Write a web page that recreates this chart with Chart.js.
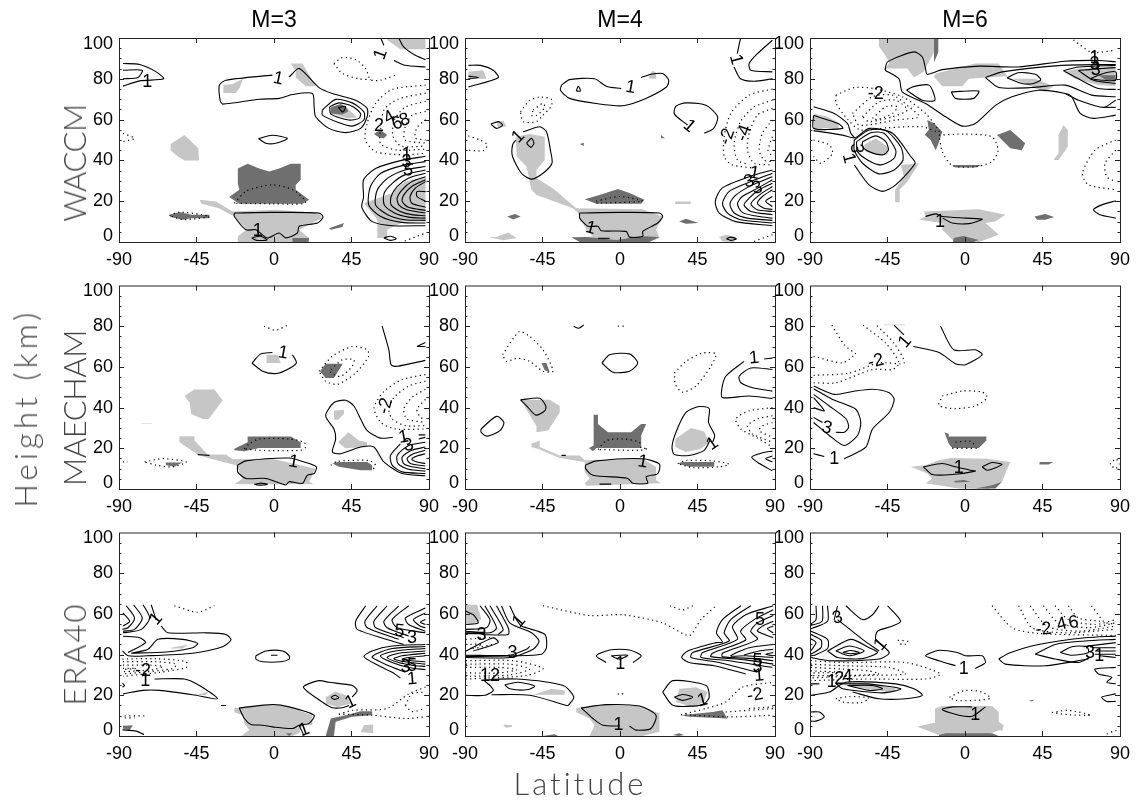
<!DOCTYPE html>
<html lang="en">
<head>
<meta charset="UTF-8">
<title>Height vs Latitude</title>
<script src="https://cdn.jsdelivr.net/npm/chart.js"></script>
<style>
  body { margin: 0; background: #fff; width: 1138px; height: 801px; overflow: hidden; position: relative; }
  canvas { position: absolute; }
  .axis-name {
    position: absolute; white-space: nowrap; color: #444; will-change: transform;
    font-family: Lato, "DejaVu Sans", sans-serif; font-weight: 300; font-size: 31px;
    transform: translate(-50%, -50%);
  }
  .side { transform: translate(-50%, -50%) rotate(-90deg); }
</style>
</head>
<body>
<div class="axis-name side" style="left:74px;top:163px;letter-spacing:-0.5px">WACCM</div>
<div class="axis-name side" style="left:74px;top:408px;letter-spacing:-0.4px">MAECHAM</div>
<div class="axis-name side" style="left:74px;top:654px;letter-spacing:2px">ERA40</div>
<div class="axis-name side" style="left:25px;top:408px;letter-spacing:4.2px">Height (km)</div>
<div class="axis-name" style="left:580px;top:783px;letter-spacing:3px">Latitude</div>
<script>
// contours and shaded areas are flat lat,height,lat,height lists
const columnTitles = ["M=3", "M=4", "M=6"];
const latTicks = [-90, -45, 0, 45, 90];
const heightTicks = [0, 20, 40, 60, 80, 100];
const minorHeights = [5, 10, 15, 25, 30, 35, 45, 50, 55, 65, 70, 75, 85, 90, 95];

// ---- WACCM M=3
const waccm3Light = [
  [-60,45,-60,48,-52,52.5,-44,46,-43.5,40,-52,40,-56,42],
  [-43.3,20.7,-33.7,19.9,-24,15,1,15.8,26,14.2,28,11.7,14.6,6,20.4,2,20,0,-21,0,-21,2.8,-16,6,-23,12.5,-32,16.6,-42,18.7],
  [-29.4,77,-24,77.5,-18,80,-20,75.5,-22,73,-29.4,73],
  [9.7,87.5,16.5,87.5,24.2,76.4,18.4,76.4,12.6,80.6,12.6,84],
  [33,66.3,41.6,66.6,48.3,61,42.5,60.6,33,63],
  [65.7,100,88,100,88,94.5,73.4,94.5,65.7,99],
  [88,32,76,29.6,68.6,24,52.2,19,57,14.2,60,10.9,60,2,65.7,2,65.7,6,76,10,88,10]
];
const waccm3Dark = [
  [-21,36,-15.3,38.3,-8.6,36,-2.8,34.5,3,36,9.7,38.3,15.5,38.3,15.5,30.5,12.6,28,12.6,25.6,20.4,20.7,16.5,18.7,-20.2,18.7,-26,22,-20.2,25.6,-21,28.8],
  [-60.7,13.4,-54.9,14.7,-48,13.4,-37.5,13.4,-37.5,11.7,-48,11.7,-53,10.9,-60,12.2],
  [32,6.8,40.6,9.3,39.7,7.3,33,6],
  [58,53,61.8,55,65.7,52.4,63.8,50.8,60.9,51.3],
  [33,66,38.7,67.7,41.6,66.6,43.1,64,39.7,62.5,33,63],
  [10.7,2,20.4,2,20,0,10.7,0]
];
const waccm3Solid = [
  [-87.7,87.5,-78,87,-68.4,83.4,-64.1,80,-78,79,-87.7,76.4],
  [-87.7,84.2,-76.5,84.2,-79,80.6,-87.7,80],
  [-0.9,81.8,-27.9,79.3,-31.7,76.9,-31.3,69.5,-29.8,67.6,-8.6,70,3,70.4,10.7,72.3,22.3,72.8,23.3,66.3,24.2,61.4,31.9,55.7,41.6,53.6,50.3,55.7,54.1,61.4,54.1,65.5,47.4,69.5,33.9,72.8,26.1,75.7,14.6,85,8.8,80.9],
  [28.1,64.7,35.8,69.9,45.4,68.2,52.2,63.8,52.2,59.8,45.4,56.8,37.7,58.5,28.1,62.2,28.1,64.7],
  [32.3,66.3,37.7,68.2,45.4,66.6,50.3,63,49.3,60.6,43.5,59.8,33,62.7,32.3,66.3],
  [37.3,66,41.6,66.3,40,63.8,37.3,66],
  [-9,50.7,-0.9,52.3,7.8,50.7,1,48.4,-4.7,48.4,-9,50.7],
  [-23,14.2,-0.9,14.5,26.1,14.2,28.5,12.2,25.2,9.3,14.6,7.7,13.6,4.4,6.9,2,3,4.4,-4,2,-10.5,6,-16.3,6,-23,12.5,-23,14.2],
  [-13,2,-8,2.8,-4,1,-10,0.8,-13,2],
  [88,42,74,40,59,36,52,30.5,52,22,51,17,57,10,69,8,88,8],
  [88,39.4,76,37.8,62,33.7,56,27.2,55,18.2,62,12.5,74,9.6,88,9.3],
  [88,37,76,35.3,66,31.3,60,25.6,59,18.2,66,13.4,76,10.9,88,10.6],
  [88,35.3,76,32.9,69,29,64,24,64,18.2,70,14.2,78,12.2,88,11.7],
  [88,33.7,78,31.3,71.5,27.2,68,22.3,68,18.2,73.4,15,80,13.4,88,12.9],
  [88,32,80,29.6,74.4,25.6,71.5,21.5,72.5,18.2,77,15.8,88,14.2],
  [88,30.5,80,27.2,75.3,23,74.4,19.9,78,17,88,15.5],
  [88,29.6,82,26.4,79,22.3,80,19,88,17],
  [88,24.7,83,24.7,83,22.3,88,19.9],
  [62,100,63.8,96.4],[69.6,89,76,86.6,88,85.8],
  [72.4,100,75.3,95.6,82,91.5,88,89.4],
  [63.8,2,67.6,2.8,71,1.6,67.6,0.8,63.8,2]
];
const waccm3Dotted = [
  [34.8,87.5,39.6,90.4,47.4,89.4,53.2,85,56,79.6,61.8,79.3,70.5,81.8],
  [34.8,87.5,39.7,82.6,49.3,80,56,79.6],
  [88,76.9,68.6,74.8,59,68,54,58,53,50,59,44.3,76.3,42.7,88,43.5],
  [88,73,72,70,64,65,62,56,62,48,72,45,88,45.5],
  [88,69,76,66,70,60,69,52,74,47,88,47],
  [88,64,80,62,76,56,76,50,88,48.5],
  [88,60,83,56,82,51,88,50],
  [-87.7,53.3,-81,50.8,-87.7,49.2],
  [-23,19,-16,25,-1,28,11,25.6,18.4,20,17,18.7,-1,18.7,-23,19],
  [-60.7,13,-55,14.7,-37.5,12.5,-53,11,-60.7,13],
  [76,0.5,88,4.4]
];
const waccm3Labels = [
  [-73.6,78.5,"1",0],[2.4,80,"1",12],[62,92,"1",-70],[-9.5,5.2,"1",0],[61,57,"2",0],
  [67,61,"4",-30],[71.5,58,"6",-20],[76,59.7,"8",-20],[77,42.7,"1",0],[77,39,"3",0],[78,35,"5",10]
];

// ---- WACCM M=4
const waccm4Light = [
  [-88,83.4,-79.5,84.2,-77.5,80,-88,80],
  [-60.5,51.6,-52.4,53,-43.7,51.6,-43.7,40.2,-48.5,35.3,-48.5,31.3,-39,26.4,-25.4,16.6,13,16,24.8,12.5,21,6,23,2,17,0,-19.6,0,-24,2,-15.7,2.8,-19.6,6,-24.4,14.2,-27.3,16.6,-40.8,20.7,-48.5,23,-51.4,25.6,-54.3,37,-60,41.9],
  [17,82,19,84,21,83,21,80,17,80],
  [-71.7,59,-67.8,59.4,-66,56.8,-70.7,55.7],
  [32,19.9,41,19.9,41,18.6,32,18.6],
  [-71.7,2.4,-65,4.7,-60,2,-67.8,0.8,-76.5,2.4],
  [57.6,2.4,61.4,3.6,67.2,2.4,66.3,0,59.5,0.3]
];
const waccm4Dark = [
  [-20.5,21,-11.9,23.1,-1.2,26,5.5,24,14.2,20.7,12.3,18.7,-13.8,18.7],
  [-65.5,12.5,-61,13.7,-57.7,12.5,-62,11],
  [34.4,10,38.3,11.4,45.6,9.3,38.3,9],
  [-28.3,2.3,-19.6,2.4,-2.2,1,13.2,2.8,22.9,2.4,17,0,-23.4,0],
  [-23.4,48,-21,48.7,-21,47],
  [23.8,52.4,26,50.8,23.8,50.8]
];
const waccm4Solid = [
  [-88,86.6,-81,86.6,-73.6,84.2,-70.7,80.5,-88,76],
  [-88,81.3,-82,80.6,-88,80],
  [-34,76.9,-29.2,79.6,-14.8,80,-8,76.4,0.7,75.2],
  [12.3,80.6,18,82.2,24.8,82.6,28.3,79.3,27,76,15,70.4,1.6,66.8,-13.8,67.9,-29.2,70.4,-34.6,74.4,-34,76.9],
  [-25.4,74,-23,74,-24.2,76.4,-25.4,74],
  [39.3,57.3,31.6,62.7,32.5,66.6,38.3,68.2,49.9,67,56.7,61.4,54.4,55.7,48.9,53.3],
  [-75,57.8,-70.7,59,-68.2,57.3,-71.7,55.7,-75,57.8],
  [-56.2,54,-46.6,56.5,-42.7,54,-40.4,45,-39.5,38.6,-44.7,33.7,-51.4,30.8,-57.2,33.7,-62.4,41.9,-62.4,47.6,-60.5,50],
  [-54.3,48.4,-51.4,50.8,-50,48.4,-51.8,46.4,-54.3,48.4],
  [-23.4,14.2,-0.4,14.5,22.9,14.2,24.8,12.5,21.9,9.3,13.2,5.2,13.2,2.8,5.5,2.4,3.6,5.2,-10.9,5.5,-12.8,7.7,-18.6,7.7,-23.4,11.7,-23.4,14.2],
  [70,100,68.1,92.3],[66.2,85.8,70,80,77.9,78.8,88.5,80],
  [88.5,98.9,79.8,92.3,75,87.5,75.9,84.2,88.5,83.4],
  [88.5,35.3,75,32,59.3,26.4,55.3,19.9,57.6,14.2,67.2,10,88.5,8],
  [88.5,33.7,76,29.6,63.4,24.8,59.5,19,62.4,14.2,70,10.9,88.5,9.3],
  [88.5,32,77,28,67.2,23,63.8,18.7,66.3,14.2,74,11.7,88.5,10.6],
  [88.5,30.5,80,26.4,71,22.3,68.2,18.7,71,14.5,78,12.9,88.5,11.7],
  [88.5,28.8,80.8,25.6,75,21.5,72,18.2,76,15,88.5,13.4],
  [88.5,27.2,80.8,23,76,18.7,79.8,15.8,88.5,15],
  [88.5,25.6,82.7,22.3,79.8,19,83.6,16.6,88.5,16],
  [88.5,22.3,84.6,20,88.5,17.4],
  [61.8,1.6,64.3,2.4,67.6,1.5,64.3,0.8,61.8,1.6],
  [-12.8,1.8,-6,1.8]
];
const waccm4Dotted = [
  [-57.8,63.8,-52.4,69.5,-46.6,71,-39.9,70,-39.9,66.6,-44.7,62.2,-48.5,59,-56.2,59,-57.8,63.8],
  [-50.4,64.7,-44.7,68,-43.7,66,-48.5,62,-51.4,62,-50.4,64.7],
  [-88,52,-81.3,50,-77,47.6,-79.4,44.8,-88,45],
  [-13.8,20,-0.3,22.3,13,20,-13.8,19],
  [88.5,75,75,72,64.3,63,60.5,51.6,60.5,41.9,65,37.8,78.7,36.2],
  [88.5,69.5,78,66.3,70,59,66.3,48.4,68.2,40.2,75,37.8],
  [88.5,65.5,79.8,62.2,75,53.3,74,45,77.9,38.6,88.5,37.8],
  [88.5,59.8,82.7,53.3,80.8,45,83.6,40.2,88.5,39.4],
  [88.5,51.6,86,45,88.5,41.9],
  [77.9,0.3,88.5,3.6]
];
const waccm4Labels = [
  [6.1,75.7,"1",10],[-59,51.6,"1",-45],[40.2,56.8,"1",40],[67.2,89.4,"1",75],[62.3,51.6,"-2",-70],
  [72,53.3,"-4",-70],[78,33.7,"1",10],[75,29.6,"3",-15],[79.8,26.4,"3",-15],[-17,6.8,"1",15]
];

// ---- WACCM M=6
const waccm6Light = [
  [-50,100,-18,100,-18,93,-24,83.4,-29.6,80.6,-33.5,85,-46,85,-44,88,-46,91,-50,96],
  [-17,82.6,6,87.5,19.6,87.5,25.4,80,40.8,80,51.4,76.4,46.6,73.6,40.8,75.2,35,77.7,23.4,81.3,2.2,80,-1.6,76.4,-13.2,76.4,-18,81],
  [57.2,83.4,66,85,87.5,85,87.5,76.4,77.5,76.9,64,80],
  [-87.9,63,-79.7,61.4,-73.4,58.5,-73.4,54.9,-80.7,55.7,-87.9,55.7],
  [-58.6,47.6,-51.8,50.8,-45,46.7,-45,42.7,-51.8,43.2,-57.6,44.3],
  [-37.3,37.8,-26.7,38.6,-33.4,29.6,-37.9,25.6,-37.9,19.5,-40.6,19.5,-40.6,25.6,-35.4,32],
  [54.3,52.4,57.2,57.3,59.7,54.9,59.7,46.7,54.3,40.2,51.4,40.2,54.3,43.5],
  [-23.8,15,8,16.1,23.4,13.4,17.7,10,11.9,9.3,19.6,3.6,8,0,-7.4,1.1,-13.2,6,-13.2,9.3,-26.7,10.9,-22.9,12.5]
];
const waccm6Dark = [
  [-21.9,59.8,-18,58.2,-13.2,54,-15.1,49,-17,45,-20,50,-23.4,52.6,-21,55],
  [18.6,52.4,26.3,54.9,35,48.4,33,45,26.3,46,21.5,50],
  [40.4,12.5,46.6,13.7,51.8,12.2,46.6,10.9,41.8,10.9],
  [-7.4,37.8,10,37.8,6,36.5,-5.5,36.5],
  [-6.5,2,-1,3,8,1,5,0,-7,0],
  [-18,100,-15.5,100,-15.5,93,-18,88],
  [87.5,81.8,77.5,81.8,82,79.3,87.5,79.3]
];
const waccm6Solid = [
  [-46.4,84.2,-45,88.3,-29.6,93.2,-24.8,90.7,-22.9,85,-22,82.2,-13.2,84.5,8,86.2,31,85.8,58,88.6,77.5,89,87.5,88.3],
  [-46.4,84.2,-38.3,80,-36.4,73.6,-22.9,67.9,-11.3,61.4,-1.6,56.8,6,58.1,17.7,67,27.3,71.2,42.7,74.4,58.2,72.8,62,71.2,66.9,63,74.6,60.6,87.5,62.2],
  [58.2,72.8,66,69.5,80.4,66,87.5,69.5],[80.4,66,87.5,66],
  [11.9,80.6,21.5,83.4,56.2,86.6,87.5,87],
  [11.9,80.6,19.6,75.7,38.9,75.7,58.2,76.9,73.6,72,87.5,71.2],
  [24.4,80.5,31,83,40.8,82.2,44,79.6,39.9,77.7,33,77.7,24.4,80.5],
  [57.2,84,65.9,85.8,87.5,86.6],[57.2,84,65.9,80,77.5,75.2,87.5,74.8],
  [65.9,84,77.5,85,87.5,85.5],[65.9,84,74.6,79.3,87.5,77.7],
  [72.6,80,80.4,82.6,87.5,83.4,87.5,79.3,80.4,79.3,72.6,80],
  [-33.9,74.4,-30.6,76,-20.9,76.9,-17.5,69.5,-24.8,69.5,-33.9,74.4],
  [-8,73.6,8,74,5,70.4,-5.5,70.4,-8,73.6],
  [-87.9,66.3,-75.9,63,-68.2,58,-66.3,53.3,-64,51],
  [-87.9,54.6,-71,52.4,-64,51,-55.7,55.7,-42.1,53.3,-31.5,41.9,-29,38.6,-40.2,28,-47.9,24.8,-55.7,28,-64.3,37.8],
  [-87.9,62,-73.4,58,-71,55.7,-87.9,55.7,-87.9,62],
  [-64.3,50,-55.7,54.9,-46,54.6,-37.3,46.7,-36,40.2,-41.2,35.3,-49.9,33.4,-59.5,38.6,-64.3,45,-64.3,50],
  [-63,49.2,-54.7,53.6,-47,53.3,-40.2,45,-41.2,41,-48.9,37.8,-56.6,40.2,-62.4,44.3,-63,49.2],
  [-59.5,49.2,-51.8,52,-46,49.2,-44.5,45,-47.9,42.7,-55.7,44.3,-59.5,46.7,-59.5,49.2],
  [-22.9,12.5,-17,13.8,-13.2,12.5,0.3,11.7,10,11.2,2.3,9,-7.4,9.3,-13,11.7],
  [87.5,20.2,79.4,18.2,74.6,15.8,78.4,13.4,87.5,11.7]
];
const waccm6Dotted = [
  [-74.9,72,-64.3,75.7,-52.8,75.2,-36.4,71.2,-22.9,63,-15.1,54,-24.8,56.5,-45,56,-61,55,-68,60,-74.9,68,-74.9,72],
  [-65.3,63,-53.7,71.2,-42.1,72,-32.5,66.3,-26.7,61.4,-40.2,59.8,-61.4,57.3,-65.3,63],
  [-59.5,61.4,-49.9,68.7,-40.2,69.5,-33.5,64.7,-42.1,61.4,-55.7,59,-59.5,61.4],
  [-53.7,60.6,-46,66.3,-39.3,66.3,-42.1,63,-50.8,60,-53.7,60.6],
  [-15.1,52.4,0,52.9,15.7,51.6,19.2,45,15.7,39.4,6,36.9,-7.4,37.5,-13.2,44.3,-15.1,52.4],
  [-87.9,50,-78.8,47.6,-76.9,43.5,-83.6,38.6,-87.9,41.9],
  [63,99,73.6,93,87.5,94],
  [87.5,50,75.5,45,68.2,33.7,71.7,28,87.5,25.6],
  [87.5,45,81.3,38.6,82.3,32,87.5,29.6]
];
const waccm6Labels = [
  [-51.8,72.3,"-2",0],[-63.4,46,"3",90],[-67.6,41,"1",75],[-14.5,10,"1",0],
  [75.2,90,"1",0],[75.2,87,"3",0],[76,84.5,"3",0]
];

// ---- MAECHAM M=3
const maecham3Light = [
  [-52,45.7,-46.2,48.9,-34.6,48.9,-29.8,43.6,-37.9,34.4,-41.4,34.4,-48.1,36.8,-49,42.5],
  [-54.9,25.9,-46.2,25.9,-46.2,23.8,-38.5,17,-27.9,17,-24,14.6,-0.9,14.9,24.2,10,20.4,3.6,23.3,2.3,-23,2.3,-18.2,5.2,-22,11.7,-38.5,15.2,-44.3,16.9,-54.9,23],
  [-4.3,66,2,66,3.9,61.9,-4.3,61.9],
  [34.8,38.4,40.6,38.9,40.6,36.8,37.3,34,34.8,34],
  [37.3,23,43.1,27.9,49.3,23.8,54,23,54,20.6,41.3,20],
  [-77,32.2,-71,32.2,-71,31.9,-77,31.9]
];
const maecham3Dark = [
  [-23,19.8,-15.3,23,-15.3,25.8,9.7,25.8,15.5,23,15.5,20.1,-8.6,20.1,-17.2,18.5,-23,19],
  [26.7,57.9,30,61.6,40,61.6,34.8,54.6,30,54.6],
  [33.9,12.5,36.8,13.3,54.1,13.3,57,11.7,57,9.2,50.3,9.2,37.7,10.9],
  [-63,13,-53.3,13,-57.8,10.9,-62.6,11.7]
];
const maecham3Solid = [
  [-12.8,61.9,-7.6,66.4,-0.9,67.1],[10.7,66,13,61.9,6.9,58.3,1,56.7,-6.6,57.9,-12.8,61.9],
  [-21.1,11.7,-16.3,13.8,8.8,15.2,17.5,13.3,24.6,10.9,23.3,7.6,19.4,6.8,16.5,2.8,8.8,3.6,6.9,2,-4.7,5.2,-16.3,5.2,-21.1,8.4,-21.1,11.7],
  [-11.5,2.3,-7.6,2.9,-3.8,2.3,-7.6,1.9,-11.5,2.3],
  [-44.3,16.9,-37.5,16.5],
  [62.8,80,66.7,68.4,68,61,71.5,60.3,87.9,63.2],
  [83,70,87.9,72],[83,70,87.9,70],
  [69,25.4,61.8,25,54.1,28.7,50.3,34.4,46.4,40.8,41.6,43.6,34.8,42.5,30,36,34.8,29.5,35.8,24.6,33.9,18.2,38.7,17.3,50.3,20.6,58,20.6,63.8,13.3,74.4,7.6,87.9,6.5],
  [73.4,22.2,67.6,16.5,68.6,11.7,74.4,8.4,87.9,7.6],
  [87.9,23,78.2,21.4,71.5,16.5,72,12.5,78.2,9.7,87.9,8.8],
  [87.9,20.6,80,19,74.4,15.7,75.3,12.5,80,10.9,87.9,10],
  [87.9,19,81,17.3,77.3,14.9,79.2,12.5,87.9,11.3],
  [87.9,17.3,83,16.2,80,14.6,83,13.3,87.9,12.5],
  [84,26.6,87.9,26.6],[84,24.6,87.9,25.4]
];
const maecham3Dotted = [
  [-5.7,80,1,78,7.8,80.5],
  [26.1,57.9,33.9,65.2,45.4,70,54.1,68.4,55,65.2,47.4,57,36.8,51.4,30,53,26.1,57.9],
  [33,58.7,39.7,63.5,46.4,63.5,45.4,60.3,38.7,55.4,33,57,33,58.7],
  [87.9,56.2,74.4,53.8,64,48.1,58.1,40,62,32.7,70.5,29.5,87.9,29.5],
  [87.9,53,78.2,50.6,69.6,44.9,66.7,39.2,68.6,34.4,76.3,31.1,87.9,31.1],
  [87.9,49,80,44.9,75.3,39.2,77.2,34.4,87.9,32.7],
  [87.9,44,83,39.2,85,35.2,87.9,34.4],
  [-87.7,13.3,-84.8,13.3],
  [-75.1,13.3,-64.5,14.9,-51,13.3,-58.7,10.9,-68.4,11.7,-75.1,13.3],
  [-17.3,19.8,-14.4,22.2,-8.6,24.6,8.8,24.6,17.5,23,18.4,20.6,15.5,19,-8.6,19,-17.3,19.8],
  [33,11.7,36.8,13.6,55,14,59,11.7,57,9.2]
];
const maecham3Labels = [
  [5.3,66.8,"1",10],[11.3,13.3,"1",10],[64.7,40.8,"-2",-75],[75.3,25.4,"1",-10],[78.2,21.4,"3",-15]
];

// ---- MAECHAM M=4
const maecham4Light = [
  [-57.2,43.8,-40.8,43.8,-35,40.8,-35,37.6,-41.8,28.7,-48.5,27.9,-48.5,31,-54.3,39],
  [-51.4,22.2,-46.6,23.8,-46.6,20.6,-35,16.5,-23.4,16.5,-20.5,14.1,13,14.9,20.9,10.9,20.9,4.4,23.8,2.8,-19.6,1.6,-20.5,2.8,-17.6,5.2,-20.5,8.4,-20.5,13.3,-35,15.2,-46.6,19.4,-51.4,20.6],
  [32.1,24.6,41.2,30,48.9,28.2,51.8,23,47,19.8,38.3,18.2,32.1,20.6]
];
const maecham4Dark = [
  [-15.3,36.5,-12.8,36.5,-12.8,31.9,-7,27.9,6.5,27.9,12.3,31.9,15.2,31.9,12.3,26.3,12.3,20.1,-13.8,20.1,-15.7,18.6,-18,20.1,-15.3,21.4],
  [-45.6,61.9,-42.7,61.9,-40.8,57.4,-43.7,58.3],
  [33.5,12.5,36.4,13.3,54.7,13.3,54.7,10.9,40.2,10.9]
];
const maecham4Solid = [
  [-57.8,43.8,-46.6,44.6,-43.1,40.8,-43.7,38.4,-48.9,36.3,-53.3,40,-57.8,43.8],
  [-80.7,29.5,-71.7,35.7,-67.4,32.7,-69.7,28.7,-77,26,-80.7,28,-80.7,29.5],
  [-10.5,61.9,-6,66,5.5,66.4,10.3,61.9,5.5,57.9,-4.1,57.4,-10.5,61.9],
  [-20,11.7,-13.8,13.8,13.2,14.9,22.9,12.2,21.9,7.6,15.2,6,16.1,2.8,7.4,2.8,4.5,5.2,-15.7,6.8,-20,10,-20,11.7],
  [-11.9,2.4,-5.1,2.4],[-34,16.5,-31.5,16.5],
  [53.8,23,55,26.3,51.4,32.7,51.8,39.6,46,40.5,38.3,37.6,32.5,27.9,30.2,20.6,31.6,16.9,40.2,16.5,48.9,19,52.7,24.6],
  [72,62.7,61.4,55.4,59.1,49,59.5,44.9,74.9,45.7,88.5,44.4],
  [83.7,63.9,88.5,64.3],
  [88.5,58.7,76,59.5,69.2,55.4,70.2,52.2,77,49.8,88.5,48.1],
  [88.5,8.9,81,12.5,76.5,15.7,82.7,17.8,88.5,18.6],
  [88.5,13.3,84.6,14.9,88.5,16.2],
  [-26.9,80,-24,79,-21,80.6]
];
const maecham4Dotted = [
  [-68.2,66,-58.6,77.3,-52.4,74.9,-44.7,68.4,-38.9,57.9,-44.7,57.9,-52.4,62.7,-59.7,64.3,-65.9,62.7,-68.2,66],
  [-1.3,80,2.6,80],
  [31.6,57,38.3,62.7,48,66.8,55.7,66.4,52.8,60.3,44.1,50.6,36.4,47.6,32.1,51.4,31.6,57],
  [88.5,40,75,38.4,67.2,34.4,70.2,29.5,80.8,24.6,88.5,20.6],
  [88.5,36,79.8,34.4,74,31,77,27,88.5,23],
  [88.5,32.7,82.7,31,80.8,28.7,88.5,25.4],
  [-12.8,19.4,-7.9,23.8,1.7,24.6,11.3,23,12.3,20.1,16.1,20,11.3,19,-11.9,19.4],
  [33.5,12.5,38.3,14,53.8,13.8,63.4,12.2,57.6,10.9,42.2,10.5,33.5,12.5]
];
const maecham4Labels = [[13.2,13.3,"1",10],[77.9,64.3,"1",-5],[53.7,22.2,"1",-35]];

// ---- MAECHAM M=6
const maecham6Light = [
  [-31.5,10.9,-22.9,11.7,-15.1,14.1,-8.4,15.2,12.8,14.9,26.3,13.3,23.4,7.6,21.5,3.6,17.7,1.9,14,0,-3.6,0.3,-22.9,2.8,-19,5.2,-21.9,7.6],
  [-47,80.8,-35,80.8,-35,80.5,-47,80.5]
];
const maecham6Dark = [
  [-11.9,27.9,-9.4,27,-9.4,25.8,12.4,25.8,12.4,23.8,8,20.1,-7.4,20.1,-9.4,22.2],
  [43.3,13.3,51.4,13.3,48.5,12,43.3,12],
  [-6.5,3.9,-0.7,4.4,3.2,3.6,-5.5,3.2],
  [6,0.3,15.7,1.9,21.5,3.6,17.7,0.3]
];
const maecham6Solid = [
  [-41.2,80.5,-35.4,75.7],
  [-30,70,-15.1,67.1,-5.5,61.6,0.3,61.1,10,66,6,68.4,-6.5,68.4,-14.2,80],
  [-87.9,50.6,-75.7,46.5,-64.6,48,-54,49,-44,47.3,-41.1,44,-44,37.6,-53.7,29.5,-57.6,20.6,-70.1,14.9],
  [-87.9,17.3,-81.7,16],
  [-87.9,49.3,-76.9,44,-63.4,39.2,-60.5,32.7,-62.4,26.3,-70.1,21.4,-78.8,26.3,-87.9,32.7],
  [-87.9,46.5,-78.8,40.8,-69,34.4,-67.6,30.3,-70.1,27.9,-75,27.9],
  [-87.9,44.9,-81.7,38.4,-87.9,40],
  [-87.9,35.2,-82.7,32.7],
  [-24.2,10.9,-13.2,12.5,-5.5,10.9,3.2,9.2,6,8.8,-7.4,7.1,-19,7.1,-24.2,10.9],
  [10,10.9,15.7,13,21.5,12,12.9,9.2,10,10.9]
];
const maecham6Dotted = [
  [-87.9,65.2,-71,62,-63.4,66.4],
  [-77.3,80.5,-70,70.8,-63.4,66.4],
  [-87.9,55.8,-67.2,57,-49.9,62,-35.4,62,-41.2,71.6,-51.4,80.5],
  [-87.9,52.2,-75,52.2,-53.7,58.7,-42.1,58.7,-38.3,62,-46,71.6,-59.1,80.5],
  [-13.2,45.7,-1.6,48.1,10,47.6,12.9,44.9,6,40.8,-5.5,39.5,-15.1,41,-13.2,45.7],
  [-5.5,23,3.2,23.5,6,21.4],[-7.4,20,7.8,20],
  [84.2,12.2,87.5,14.9,89.5,12.2,87.5,10,84.2,12.2]
];
const maecham6Labels = [
  [-51.8,62.7,"-2",-15],[-80.2,30,"3",15],[-75.9,14.9,"1",0],[-34.8,72.4,"1",-50],[-3.6,10.5,"1",0]
];

// ---- ERA40 M=3
const era3Light = [
  [-23,13.8,-8.6,14.7,6.9,14.7,22.3,10.2,22.3,5.3,16.5,5.3,14.6,1.3,10.7,0,-19,0,-14.4,2.9,-17.2,6.2,-18.2,10.2,-23,11.7],
  [-59.7,43.4,-50,45,-53,43,-59.7,43],
  [-45.2,20,-38.5,21.9,-39.5,20],
  [30,19,35.8,21.9,41.6,20,44.5,15.9,36.8,14.3,30,15.9],
  [50.3,2,52.2,5.3,57.6,5.7,57.6,1.3]
];
const era3Dark = [
  [30,0,33,8.6,41.6,10.2,50.3,12.2,57,12.2,57,10.2,45.4,9.4,35.8,7,34.8,0],
  [-87.7,5,-81.9,5.3,-83.8,2.9,-87.7,3.7],
  [6.9,1.3,10.7,1.3,8.8,0]
];
const era3Solid = [
  [-87.7,60.5,-83.8,56.4,-87.7,54],
  [-85.8,64,-81,58,-84.8,53.2,-88,52.4],
  [-81.5,64.5,-76.5,58,-81,52.4,-87.7,51.5],
  [-76,64.5,-72.2,58,-77,52.4,-87.7,50.7],
  [-71.3,64.5,-68.4,57],
  [-65.5,54,-61.6,50.7,-39.5,50.7,-27.9,49.9,-25,47.2,-29.8,43.9,-47.2,40.7,-74,39.4,-84.8,39.4,-88,41.8],
  [-87.7,49,-78,48.3,-74.6,45.9,-84.8,41],
  [-82.9,40.7,-73.2,42.6,-67.4,47.5,-53,47.5,-44.3,45.5,-47.2,43.4,-62.6,41.3,-82.9,40.7],
  [-69.4,28,-52,28,-43.3,24.8,-32.7,18.3,-47.2,20.3,-66.5,22.4,-76,22.4,-87.7,20.7],
  [-88,26,-86.8,24.8,-88,24],
  [-30.8,15,-27.9,15],
  [-88,3,-80,2.4,-75.5,0.8],
  [-10.5,39.4,-4.7,41.8,5,41.8,8.8,39.4,8.8,37.8,3.9,36.5,-6.6,36.5,-10.5,37.8,-10.5,39.4],
  [-1.8,39.7,2,39.7],
  [-20.2,13.8,-0.9,15.4,8.8,14.3,23.3,10.2,20.4,6.2,14.6,5.3,10.7,3.7,-0.9,4.5,-6.6,5.3,-13.4,5.7,-17.2,8.6,-20.2,13.8],
  [14.6,5.3,17.5,0],
  [45.4,19.1,48.3,22.4,45.4,24.8,31.9,26.4,26.1,27.2,17.1,24,28,16.7,33.9,13.9,39.7,13.9,43.5,15],
  [33,19,35.4,20,37.7,18.8,35,18,33,19],
  [53.2,64,47.4,56.4,48.3,52.4,68.6,46.7,75.3,45],
  [59.9,64,52.8,56.4,54.1,53.2,72.4,47.5],
  [65.7,64,58,56.4,59,53.2,75.3,48.3],
  [72.4,64,63.8,56.4,65.7,53.2,78.2,49.1],
  [78.2,64,68.6,57.2,71.5,53.2,87.9,50.7],
  [87.9,62.9,76.3,58,78.2,54.8,87.9,51.5],
  [87.9,60.5,81,57.2,85,53.9,87.9,53.2],
  [87.9,57.2,85,55.9,87.9,54.8],
  [87.9,45,68.6,44.2,57,41.8,52.2,39,60.9,34.5,68.6,31.3,73.4,28.5],
  [87.9,44,68.6,43,59,40.2,57,38.6,66.7,34.5,76.3,31.3],
  [87.9,43,70.5,41.8,61.8,39.4,68.6,36.1,78.2,33.7,87.9,32.6],
  [87.9,41.8,72.4,40.7,65.7,38.6,72.4,36.1,80,34.8,87.9,34.2],
  [87.9,40.7,74.4,39.4,69.6,38,76.3,36.5,87.9,35.3],
  [87.9,39.4,78.2,38.6,74.4,37.8,80,37,87.9,36.5]
];
const era3Dotted = [
  [-57.8,64,-44.3,60.8,-34.6,64],
  [-88,37.8,-68.4,38,-51,36.5,-51,33.7,-66.5,31.3,-87.7,29.3],
  [-87.7,36.5,-68.4,36.5,-56.8,35.3,-58.7,33.2,-76,31.3,-87.7,30.5],
  [-87.7,34.8,-72.2,34.8,-64.5,34.2,-70.3,32.6,-87.7,31.6],
  [-87.7,33.2,-80,33.2,-87.7,32.6],
  [-86.7,9.9,-75.1,9.9],[-86.7,8.9,-81,8.9],
  [37.7,10.7,45.4,12.6,65.7,13.5,78.2,20.7,87.9,24],
  [37.7,10.7,57,10.2,76.3,8.6,87.9,9.4],
  [76.3,15,80,20.7,87.9,21.6],[76.3,15,80,12,87.9,13.5]
];
const era3Labels = [
  [-76.1,32,"-2",0],[-74.8,27.2,"1",0],[-68.4,57.5,"1",-50],[72.8,51.5,"5",5],[80.2,48.3,"3",0],
  [76.3,33.7,"3",0],[80.2,34.5,"5",0],[80.2,28,"1",-5],[44.5,16.7,"1",-25],[17.5,3,"1",-20]
];

// ---- ERA40 M=4
const era4Light = [
  [-89.5,64.5,-83,64.5,-80.4,57.2,-86.1,54.8,-89.5,54.8],
  [-25.4,13.8,-8,15.4,11.3,14.7,22.9,11,22.9,2.1,13.2,0,-17.6,0,-14.8,5.3,-17.6,8.6,-25.4,11.7],
  [-66.9,5.7,-63,5.3,-62.4,4.5,-65.9,4,-67.8,5],
  [-50.4,20.3,-39.8,23.2,-32.1,22.4,-32.1,20.3,-43.7,20.3],
  [34.4,23.2,44.1,24,50.8,21.6,48.9,16.7,42.2,14.3,32.5,16.7]
];
const era4Dark = [
  [35.4,10.2,53.7,11.8,59.5,12.6,62.4,8.6,40.2,9.4],
  [30.6,0.5,34.4,1.3,37.3,0.5,34,0],
  [-45,0,-38,0.8,-36,0]
];
const era4Solid = [
  [-64,64,-60.1,57.2,-57.2,54,-43.7,50,-42.7,43.4,-45.6,40.2,-62,39.4,-89.5,39],
  [-68.8,64,-64,55.6,-51.4,50.7,-47,46.7,-50.4,42.6,-64,38.6,-89.5,38.6],
  [-71.7,64,-64.9,53.2,-64.9,49.9,-80.4,49.9],
  [-75.5,64,-67.8,52.4,-70.7,49.9],
  [-78.4,64,-71.7,53.2,-75.5,50.7,-89.5,51.5],
  [-81.3,64,-75.5,57.2,-77.5,53.2,-89.5,52.4],
  [-89.5,61.3,-85.2,59.6,-82.3,55.6,-89.5,54.8],
  [-89.5,51,-78.4,51],[-89.5,50.3,-78.4,50.3],
  [-89.5,41.8,-73.6,48.3,-70.7,45.9,-85.2,41.8],
  [-89.5,39.7,-64,39.7,-54.3,42.6,-52.4,44],
  [-89.5,20,-78.4,20,-73.6,22.4,-75.5,24.8,-78.4,27.2,-60,28,-33,24.8,-26.8,19.1,-30.1,15],
  [-74.6,20.3,-52.4,20,-31,15,-30.1,15],
  [-66.9,25.1,-59.1,26.4,-49.5,24.5,-54.3,22.7,-64,23.2,-66.9,25.1],
  [-8,36.1,-13.8,39.4,-6,42.3,5.5,42.3,12.3,39.4,7.5,36.1],
  [-5.1,39.4,4.5,39.7,-0.3,37.8,-5.1,39.4],
  [-22.5,13.8,-8,15.4,11.3,14.7,20.9,10.2,18,3.7,9.4,2.9,5.5,4.9],
  [-0.5,4.9,-9.9,5.3,-15.7,8.6,-22.5,13.8],
  [24.8,21.6,30.6,27.2,50,24.8,51.8,19.1,48.9,15.9,42.2,14.7,30.6,15.1,24.8,21.6],
  [31.6,19.1,36.4,20.4,42.2,19.1,36.4,17.5,31.6,19.1],
  [70.2,64,59.5,57.2,56,50.7,59.5,46.2,55.7,45.9,39.3,41.8,35.8,38.6,40.2,36.1,54.7,34.5,73,30.5],
  [75.9,64,64.3,57.2,60.5,50.7,63.4,46.7,42.2,41,41.2,38.6,57.6,36.1,79.8,31.3],
  [89,64,73,59.6,65.3,53.8,68.2,47.5,48,41,47,38.6,63.4,37,88.5,33.7],
  [89,62,77.9,57.2,70,51.5,73,47.2,53.7,40.7,52.8,39,73,37.4,89,35.3],
  [89,59.2,79.8,55.6,75.9,51.5,79.8,47.5,59.5,40.7,59.5,38.9,79.8,38,89,37],
  [89,56.4,82.7,54,79.8,51.5,89,48.3],
  [89,54,85.6,52.7,89,50.7],
  [89,45,75,43.4,64.3,39.4,73,39.4,89,38.6],
  [89,42.6,80.8,41.8,72,39.8],
  [89,41,84.7,40.2,89,39.4]
];
const era4Dotted = [
  [-44.7,64,-17.6,59.2,1.6,59.6,24.8,55.6,40.2,49.4,47,57.2,55.7,64],
  [29,64,36.4,62,42.2,64],
  [-89.5,37,-62,37,-44.7,33.2,-54.3,29.7,-89.5,28],
  [-89.5,35.3,-64,35.3,-52.4,32.9,-64,30,-89.5,29.3],
  [-89.5,33.7,-69.7,33.7,-60,32.6,-69.7,31,-89.5,31],
  [-89.5,47.5,-73.6,48.3,-70.7,45.9,-87,42.6],
  [-89.5,45,-80,45,-87,43],
  [-1.3,20.7,0.6,20.3,3,21.6],
  [35.4,10.5,49.9,13.5,61.4,16.7,71,24,89,26.4],
  [35.4,10.5,63.4,9.4,89,10.2],
  [75,13.5,89,14.3],[61.4,11.8,89,13.5]
];
const era4Labels = [
  [-58.6,56.4,"1",-50],[-80.4,49.4,"3",0],[-62.4,41,"3",0],[-75.5,29.7,"12",0],[0.1,35.3,"1",0],
  [-0.9,5.3,"1",0],[48,17.5,"1",-15],[81.3,57.2,"5",0],[79.8,37,"5",0],[79.8,33.7,"3",0],
  [80.8,29.7,"1",-5],[78.4,20,"-2",-10]
];

// ---- ERA40 M=6
const era6Light = [
  [-17.4,13.5,-13.2,14.7,15.7,14.7,19.6,11.8,19.6,7,22.5,5.3,21.5,2.1,20.6,2.9,11.9,0.5,-15.1,0.5,-27.7,4.5,-17.4,6.6],
  [-74,25.6,-59.5,26.4,-39.3,23.2,-45,21.6,-67.2,24.5]
];
const era6Dark = [
  [-15.1,0.5,-11.3,1.3,15.7,1.3,19.6,0,-15.1,0],
  [37,17.5,40.4,17.8,38.9,17]
];
const era6Solid = [
  [-86.5,64,-86.5,57.2,-89.5,55],
  [-82.7,64,-83,56.4,-89.5,54.3],
  [-79.8,64,-79.8,56.4,-89.5,52.7],
  [-74,64,-76,57],
  [-69.2,64,-59.5,57.2,-53.7,59.6,-49.9,64],
  [-45,64,-37.3,56.4,-42.1,54,-50.8,51.5,-51.8,47.5,-44,41,-49.9,37.8,-78.8,37,-89.5,38.6],
  [-74,57.2,-59.5,47.5,-49.9,41.8],
  [-89.5,51.5,-79.8,47.5,-79.8,43,-87.5,39.7,-89.5,39.4],
  [-89.5,49.9,-83.6,47.2,-83.6,43.4,-89.5,40.2],
  [-89.5,47.8,-86.5,45.9,-89.5,41.8],
  [-79.8,41.8,-66.3,47.5,-55.7,43.4,-50.8,41,-59.5,38,-74,38.6,-79.8,41.8],
  [-75,41.8,-67.2,44.2,-58.6,41.8,-67.2,39.4,-75,41.8],
  [-71,41,-66.3,42,-61.4,41,-66.3,40.4,-71,41],
  [-89.5,20,-78.8,21.6,-69.2,26.4,-40.2,25.6,-29.6,23.2,-24.8,20,-34.4,18.3,-49.9,18.3,-65.3,21.6],
  [-89.5,25.6,-84.6,25.6],
  [-74.9,25.6,-57.6,25.6,-37.3,23.2,-47.9,21.2,-71,23.2,-74.9,25.6],
  [-68.2,24.8,-53.7,24.8,-47.9,23.2,-55.7,22.4,-68.2,24.8],
  [-89.5,11.8,-84.6,11.8,-81.7,9.4,-86.5,7.3,-89.5,7.3],
  [6,33.2,11.9,36.1,10,39.4,0.3,39.4,-4.5,41,-15.1,42.1,-22.9,39.4,-15.1,37,-5.5,34.5],
  [19.6,37.8,25.4,40.7,42.7,45,69.7,48.3,87.5,49.1],
  [19.6,37.8,23.4,35.3,46.6,34.5,71.7,37.8],
  [40.8,40.2,52.4,45,69.7,46.7,87.5,47.5],
  [40.8,40.2,52.4,37.8,65.9,36.1,72.6,38.6],
  [55.3,41,62,43.9,70.7,43.9,71.7,41,62,39.7,55.3,41],
  [68.8,43.9,87.5,45.9],[72.6,43.9,75.5,43.4,87.5,43.4],
  [75.5,41.8,87.5,41.8],[75.5,40.2,87.5,40.2],[78.4,39.4,87.5,38.6],
  [87.5,33.7,75.5,32.9,77.5,30.5,85.2,28.9,82.3,26.4,87.5,25.6],
  [87.5,20.7,79.4,19.1,82.3,17,87.5,17],
  [11.9,14.3,4.2,9.7,-3.6,10.2,-13.2,13,-7.4,14.3,4,14.3]
];
const era6Dotted = [
  [-9,19.1,0,22.4,9.9,21.6,14.8,18.6,6.2,17.5,-5.5,17.5,-9,19.1],
  [15.7,64,27.3,53.2,42.7,50.4,87.5,49.4],
  [31.2,64,38.9,53.2,58.2,50.7,87.5,52.4],
  [37.9,64,47.6,54,65.9,51.5,87.5,54],
  [45.6,64,54.3,55.6,71.7,53.2,87.5,55.6],
  [52.3,64,60,57.2,75.5,54.8,87.5,57.2],
  [60,64,65.9,58,78.4,56.4],
  [73.5,64,81,56,87.5,55],
  [-89.5,37,-69.2,36.1,-34.4,36.1,-14.2,30.5,-22.9,28,-59.5,28,-89.5,27.2],
  [-89.5,35.3,-69.2,34.5,-44,33.7,-34.4,30.5,-59.5,29.7,-89.5,28.5],
  [-89.5,33.7,-71,32.9,-55.7,32,-49.9,30.5,-69.2,29.7,-89.5,29.7],
  [-89.5,32,-71,31.3,-89.5,31],
  [-75,18.3,-67.2,19.4,-55.7,18.6,-60.5,16.4,-71,16.7,-75,18.3],
  [50.5,11.5,60,12.6,73.2,10.2,60,10.5,50.5,11.5],
  [82.3,1,87.5,2.6,89.5,1.3],
  [-39,47,-33,46.5,-35,45,-39,45.5]
];
const era6Labels = [
  [-74,58,"3",-15],[-48.9,45,"1",-50],[-0.7,32.9,"1",0],[6,10.2,"1",0],[45.6,52.4,"-2",-5],
  [56.2,54.8,"4",-15],[63,55.6,"6",-10],[72.6,41,"3",0],[77.9,39.4,"1",0],
  [-77.3,26.4,"1",0],[-73,28,"2",0],[-68.2,28.8,"4",0]
];

const panels = [
  { col: 0, row: 0, light: waccm3Light, dark: waccm3Dark, solid: waccm3Solid, dotted: waccm3Dotted, labels: waccm3Labels },
  { col: 1, row: 0, light: waccm4Light, dark: waccm4Dark, solid: waccm4Solid, dotted: waccm4Dotted, labels: waccm4Labels },
  { col: 2, row: 0, light: waccm6Light, dark: waccm6Dark, solid: waccm6Solid, dotted: waccm6Dotted, labels: waccm6Labels },
  { col: 0, row: 1, light: maecham3Light, dark: maecham3Dark, solid: maecham3Solid, dotted: maecham3Dotted, labels: maecham3Labels },
  { col: 1, row: 1, light: maecham4Light, dark: maecham4Dark, solid: maecham4Solid, dotted: maecham4Dotted, labels: maecham4Labels },
  { col: 2, row: 1, light: maecham6Light, dark: maecham6Dark, solid: maecham6Solid, dotted: maecham6Dotted, labels: maecham6Labels },
  { col: 0, row: 2, light: era3Light, dark: era3Dark, solid: era3Solid, dotted: era3Dotted, labels: era3Labels },
  { col: 1, row: 2, light: era4Light, dark: era4Dark, solid: era4Solid, dotted: era4Dotted, labels: era4Labels },
  { col: 2, row: 2, light: era6Light, dark: era6Dark, solid: era6Solid, dotted: era6Dotted, labels: era6Labels }
];

// frame pixel positions in the page
const colLeft = [119, 465, 810];
const rowTop = [38, 283, 530];
const rowHeight = [204, 206, 206];
const plotWidth = 311;
const marginLeft = 60, marginRight = 16, marginBottom = 30, marginTop = 15;

function toPoints(flat) {
  const pts = [];
  for (let i = 0; i < flat.length; i += 2) pts.push({ x: flat[i], y: flat[i + 1] });
  return pts;
}

function makeDatasets(p) {
  const sets = [];
  p.solid.forEach(c => sets.push({ data: toPoints(c), borderColor: "#000", borderWidth: 1.1, tension: 0.25, order: 1 }));
  p.dotted.forEach(c => sets.push({ data: toPoints(c), borderColor: "#000", borderWidth: 1.2, borderDash: [1.2, 3.4], tension: 0.25, order: 2 }));
  p.dark.forEach(c => sets.push({ data: toPoints(c), borderWidth: 0, backgroundColor: "#6f6f6f", fill: "shape", order: 3 }));
  p.light.forEach(c => sets.push({ data: toPoints(c), borderWidth: 0, backgroundColor: "#c6c6c6", fill: "shape", order: 4 }));
  return sets;
}

// frame with inward ticks on all four sides, then the contour labels
function framePlugin(p) {
  return {
    id: "frame",
    afterDatasetsDraw(chart) {
      const { ctx, chartArea: a, scales: { x, y } } = chart;
      ctx.save();
      ctx.strokeStyle = "#222";
      ctx.lineWidth = 1;
      ctx.strokeRect(a.left + 0.5, a.top + 0.5, a.right - a.left, a.bottom - a.top);
      ctx.beginPath();
      latTicks.slice(1, -1).forEach(v => {
        const px = Math.round(x.getPixelForValue(v)) + 0.5;
        ctx.moveTo(px, a.top); ctx.lineTo(px, a.top + 5);
        ctx.moveTo(px, a.bottom); ctx.lineTo(px, a.bottom - 5);
      });
      heightTicks.slice(1, -1).forEach(v => {
        const py = Math.round(y.getPixelForValue(v)) + 0.5;
        ctx.moveTo(a.left, py); ctx.lineTo(a.left + 5, py);
        ctx.moveTo(a.right, py); ctx.lineTo(a.right - 5, py);
      });
      minorHeights.forEach(v => {
        const py = Math.round(y.getPixelForValue(v)) + 0.5;
        ctx.moveTo(a.left, py); ctx.lineTo(a.left + 2.5, py);
        ctx.moveTo(a.right, py); ctx.lineTo(a.right - 2.5, py);
      });
      ctx.stroke();
      ctx.fillStyle = "#000";
      ctx.font = "18px 'Liberation Sans'";
      ctx.textAlign = "center";
      ctx.textBaseline = "middle";
      p.labels.forEach(([lat, h, text, rot]) => {
        ctx.save();
        ctx.translate(x.getPixelForValue(lat), y.getPixelForValue(h));
        ctx.rotate(rot * Math.PI / 180);
        ctx.fillText(text, 0, 0);
        ctx.restore();
      });
      ctx.restore();
    }
  };
}

panels.forEach(p => {
  const canvas = document.createElement("canvas");
  const top = p.row === 0 ? 0 : rowTop[p.row] - marginTop;
  const upper = p.row === 0 ? rowTop[0] : marginTop;
  const w = marginLeft + plotWidth + marginRight;
  const h = upper + rowHeight[p.row] + marginBottom;
  canvas.width = w;
  canvas.height = h;
  canvas.style.left = (colLeft[p.col] - marginLeft) + "px";
  canvas.style.top = top + "px";
  canvas.style.width = w + "px";
  canvas.style.height = h + "px";
  document.body.appendChild(canvas);

  new Chart(canvas, {
    type: "scatter",
    data: { datasets: makeDatasets(p) },
    plugins: [framePlugin(p)],
    options: {
      responsive: false,
      animation: false,
      events: [],
      showLine: true,
      elements: { point: { radius: 0 } },
      layout: { padding: { top: p.row === 0 ? 0 : marginTop, right: marginRight } },
      plugins: {
        legend: { display: false },
        tooltip: { enabled: false },
        title: {
          display: p.row === 0,
          text: columnTitles[p.col],
          fullSize: false,
          color: "#000",
          font: { family: "'Liberation Sans'", size: 23, weight: "normal" },
          padding: { top: 6.5, bottom: 3.9 }
        }
      },
      scales: {
        x: {
          type: "linear", min: -90, max: 90,
          border: { display: false }, grid: { display: false, drawTicks: false },
          afterFit: s => { s.height = marginBottom; },
          ticks: {
            stepSize: 45, autoSkip: false, maxRotation: 0, padding: 7, color: "#000",
            font: { family: "'Liberation Sans'", size: 18 }
          }
        },
        y: {
          type: "linear", min: 0, max: 100,
          border: { display: false }, grid: { display: false, drawTicks: false },
          afterFit: s => { s.width = marginLeft; },
          ticks: {
            stepSize: 20, autoSkip: false, padding: 6, color: "#000",
            font: { family: "'Liberation Sans'", size: 18, lineHeight: "11.5px" },
            // the end labels sit inside the frame, 0 lifted and 100 lowered
            callback: v => v === 0 ? ["0", ""] : v === 100 ? ["", "100"] : String(v)
          }
        }
      }
    }
  });
});
</script>
</body>
</html>
